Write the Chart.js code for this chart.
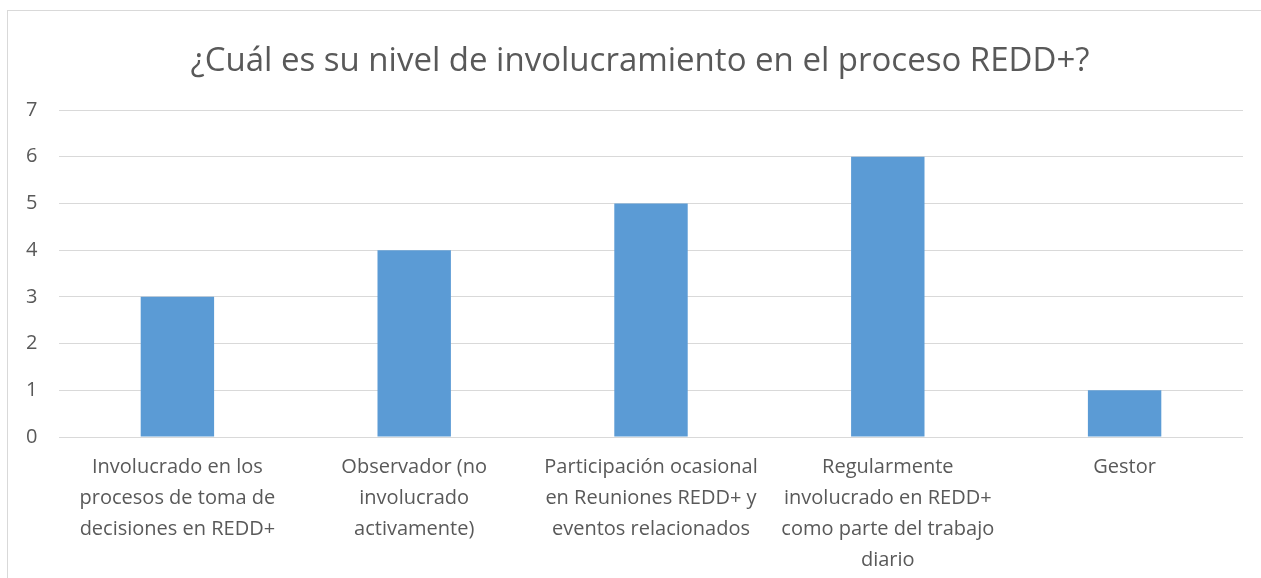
<!DOCTYPE html>
<html>
<head>
<meta charset="utf-8">
<script src="https://cdn.jsdelivr.net/npm/chart.js@4"></script>
<style>
  html, body { margin: 0; padding: 0; background: #fff; overflow: hidden; }
  #frame {
    position: absolute; left: 7px; top: 10px; width: 1300px; height: 620px;
    border: 1px solid #d9d9d9; box-sizing: border-box;
  }
  #wrap { position: absolute; left: 0; top: 0; width: 1261px; height: 578px; }
</style>
</head>
<body>
<div id="frame"></div>
<div id="wrap"><canvas id="chart"></canvas></div>
<script>
// Chart data
const chartTitle = '¿Cuál es su nivel de involucramiento en el proceso REDD+?';
const categories = [
    ['Involucrado en los', 'procesos de toma de', 'decisiones en REDD+'],
    ['Observador (no', 'involucrado', 'activamente)'],
    ['Participación ocasional', 'en Reuniones REDD+ y', 'eventos relacionados'],
    ['Regularmente', 'involucrado en REDD+', 'como parte del trabajo', 'diario'],
    ['Gestor']
];
const values = [3, 4, 5, 6, 1];
const yTicks = [0, 1, 2, 3, 4, 5, 6, 7];

const textColor = '#595959';
const gridColor = '#d9d9d9';
const fontFamily = '"Open Sans", "Noto Sans", sans-serif';

const ctx = document.getElementById('chart').getContext('2d');

const involvementChart = new Chart(ctx, {
    type: 'bar',
    data: {
        labels: categories,
        datasets: [{
            label: 'Respuestas',
            data: values,
            backgroundColor: '#5b9bd5',
            barPercentage: 0.31,
            categoryPercentage: 1.0
        }]
    },
    options: {
        responsive: true,
        maintainAspectRatio: false,
        animation: false,
        layout: {
            // left/right kept unequal so the title sits centred like the original
            padding: { left: 37, right: 18, top: 42, bottom: -13 }
        },
        plugins: {
            legend: { display: false },
            tooltip: { enabled: false },
            title: {
                display: true,
                text: chartTitle,
                color: textColor,
                font: { family: fontFamily, size: 33, weight: 'normal' },
                padding: { top: 0, bottom: 28.4 }
            }
        },
        scales: {
            x: {
                grid: { display: false, drawTicks: false },
                border: { display: false },
                ticks: {
                    color: textColor,
                    font: { family: fontFamily, size: 20, lineHeight: 1.55 },
                    padding: 15,
                    maxRotation: 0,
                    autoSkip: false
                }
            },
            y: {
                min: 0,
                max: yTicks[yTicks.length - 1],
                afterBuildTicks: function(axis) {
                    axis.ticks = yTicks.map(v => ({ value: v }));
                },
                afterFit: function(axis) {
                    axis.width = 22;
                },
                grid: { color: gridColor, lineWidth: 1, drawTicks: false },
                border: { display: false },
                ticks: {
                    color: textColor,
                    font: { family: fontFamily, size: 20 },
                    // mirrored labels are not clipped to the narrow axis box
                    mirror: true,
                    padding: -33
                }
            }
        }
    }
});
</script>
</body>
</html>
